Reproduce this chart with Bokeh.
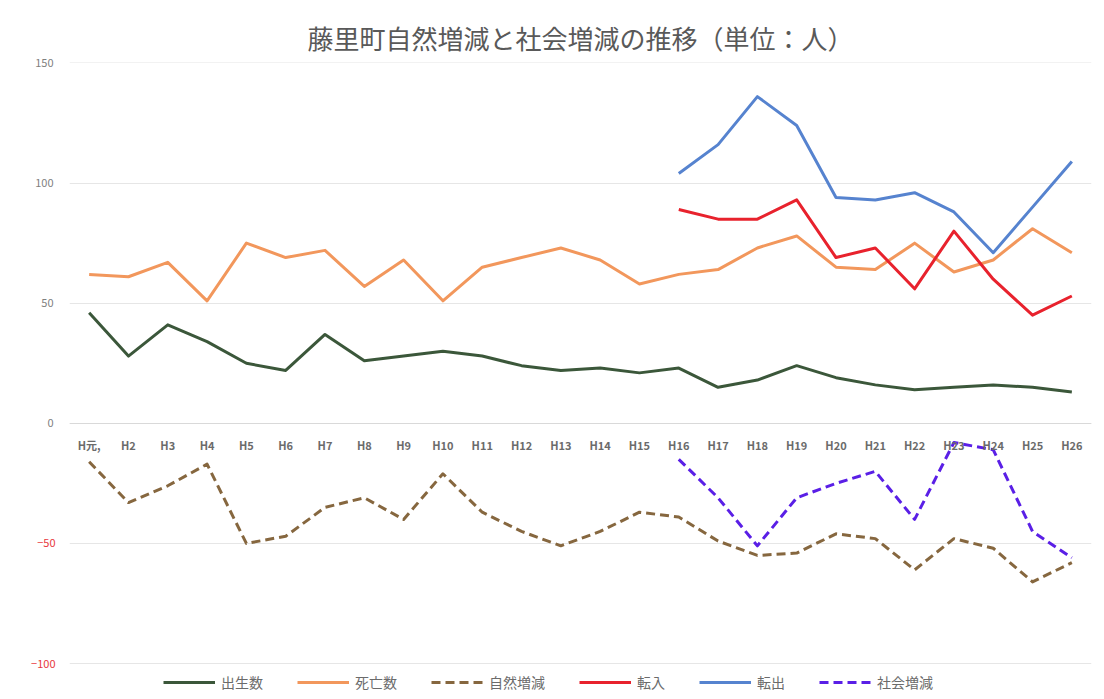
from bokeh.plotting import figure
from bokeh.models import FactorRange, Range1d, FixedTicker, Legend, LegendItem, LinearAxis
from bokeh.embed import file_html
from bokeh.resources import INLINE

# ---- data ----
years = ["H元,", "H2", "H3", "H4", "H5", "H6", "H7", "H8", "H9", "H10", "H11", "H12", "H13",
         "H14", "H15", "H16", "H17", "H18", "H19", "H20", "H21", "H22", "H23", "H24", "H25", "H26"]
births = [46, 28, 41, 34, 25, 22, 37, 26, 28, 30, 28, 24, 22, 23, 21, 23, 15, 18, 24, 19, 16, 14, 15, 16, 15, 13]
deaths = [62, 61, 67, 51, 75, 69, 72, 57, 68, 51, 65, 69, 73, 68, 58, 62, 64, 73, 78, 65, 64, 75, 63, 68, 81, 71]
natural = [-16, -33, -26, -17, -50, -47, -35, -31, -40, -21, -37, -45, -51, -45, -37, -39, -49, -55, -54, -46,
           -48, -61, -48, -52, -66, -58]
social_years = ["H16", "H17", "H18", "H19", "H20", "H21", "H22", "H23", "H24", "H25", "H26"]
moved_in = [89, 85, 85, 93, 69, 73, 56, 80, 60, 45, 53]
moved_out = [104, 116, 136, 124, 94, 93, 96, 88, 71, 90, 109]
social = [-15, -31, -51, -31, -25, -20, -40, -8, -11, -45, -56]
y_ticks = [-100, -50, 0, 50, 100, 150]
red_ticks = [-100, -50]
gray_ticks = [0, 50, 100, 150]

FONT = "Noto Sans CJK JP"

# the frame extends below -100 so the legend can sit inside it
p = figure(width=1100, height=698,
           x_range=FactorRange(*years, range_padding=0),
           y_range=Range1d(-113.3, 150.2),
           output_backend="svg", toolbar_location=None,
           min_border_left=69, min_border_right=9, min_border_top=62, min_border_bottom=3,
           title="藤里町自然増減と社会増減の推移（単位：人）")
p.outline_line_color = None
p.background_fill_color = "white"

p.title.align = "center"
p.title.offset = -25
p.title.standoff = 14
p.title.text_font = FONT
p.title.text_font_size = "26px"
p.title.text_font_style = "normal"
p.title.text_color = "#595959"

p.xgrid.visible = False
p.ygrid.ticker = FixedTicker(ticks=y_ticks)
p.ygrid.grid_line_color = "#e6e6e6"
p.ygrid.grid_line_width = 1


def style_y(ax, ticks, color, standoff):
    ax.ticker = FixedTicker(ticks=ticks)
    ax.axis_line_color = None
    ax.major_tick_line_color = None
    ax.minor_tick_line_color = None
    ax.major_tick_out = 0
    ax.major_tick_in = 0
    ax.major_label_text_font = FONT
    ax.major_label_text_font_size = "11px"
    ax.major_label_text_color = color
    ax.major_label_standoff = standoff


# inner axis: red negative labels
style_y(p.yaxis[0], red_ticks, "#e8383d", 14)
# outer axis: gray labels, pulled back to the same column
gray_axis = LinearAxis()
style_y(gray_axis, gray_ticks, "#7f7f7f", -25)
p.add_layout(gray_axis, "left")

xa = p.xaxis[0]
xa.fixed_location = 0
xa.axis_line_color = "#d9d9d9"
xa.major_tick_line_color = None
xa.minor_tick_line_color = None
xa.major_label_text_font = FONT
xa.major_label_text_font_size = "11px"
xa.major_label_text_font_style = "bold"
xa.major_label_text_color = "#6b6b6b"
xa.major_label_standoff = 8

r1 = p.line(years, births, line_color="#3b573a", line_width=3, line_join="round")
r2 = p.line(years, deaths, line_color="#f2975c", line_width=3, line_join="round")
r3 = p.line(years, natural, line_color="#86673f", line_width=3, line_dash="9 5", line_join="round")
r4 = p.line(social_years, moved_in, line_color="#e8222d", line_width=3, line_join="round")
r5 = p.line(social_years, moved_out, line_color="#5683cf", line_width=3, line_join="round")
r6 = p.line(social_years, social, line_color="#5a1fe6", line_width=3, line_dash="9 5", line_join="round")

legend = Legend(items=[LegendItem(label="出生数", renderers=[r1]),
                       LegendItem(label="死亡数", renderers=[r2]),
                       LegendItem(label="自然増減", renderers=[r3]),
                       LegendItem(label="転入", renderers=[r4]),
                       LegendItem(label="転出", renderers=[r5]),
                       LegendItem(label="社会増減", renderers=[r6])],
                orientation="horizontal", location=(94, 3),
                border_line_color=None, background_fill_alpha=0,
                label_text_font=FONT, label_text_font_size="14px", label_text_color="#6b6b6b",
                glyph_width=52, glyph_height=16, label_height=16, spacing=34,
                label_standoff=6, padding=2, margin=0)
p.add_layout(legend)

open("out.html", "w").write(file_html(p, INLINE))
